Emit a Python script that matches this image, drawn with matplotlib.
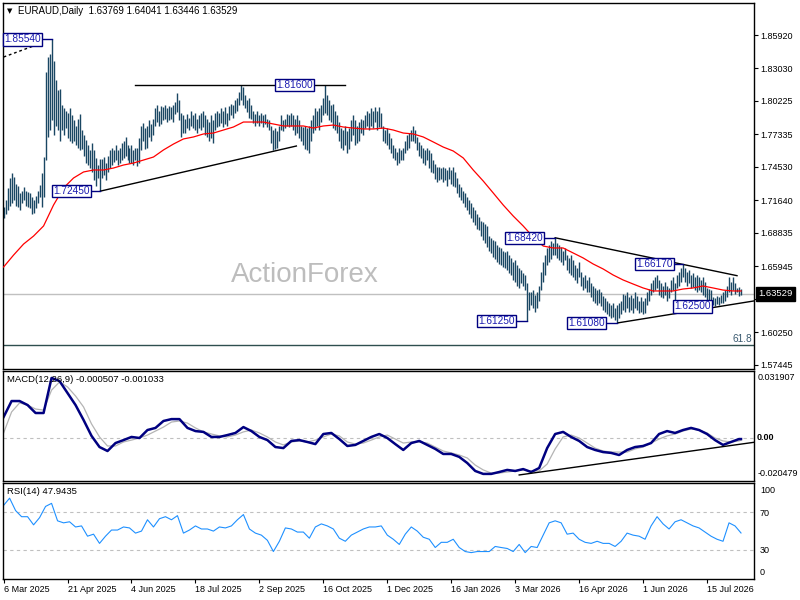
import numpy as np
import matplotlib.pyplot as plt

plt.rcParams['font.family'] = ['Liberation Sans', 'DejaVu Sans']

# EURAUD daily bars from 6 Mar 2025
highs = [
    1.711, 1.717, 1.727, 1.736, 1.740, 1.737, 1.731, 1.729, 1.723, 1.725,
    1.728, 1.725, 1.724, 1.723, 1.719, 1.717, 1.720, 1.725, 1.730, 1.740,
    1.754, 1.827, 1.840, 1.843, 1.8554, 1.837, 1.820, 1.812, 1.813, 1.799,
    1.796, 1.794, 1.792, 1.796, 1.790, 1.786, 1.781, 1.787, 1.791, 1.777,
    1.773, 1.769, 1.764, 1.760, 1.766, 1.760, 1.753, 1.747, 1.752, 1.752,
    1.754, 1.749, 1.755, 1.760, 1.762, 1.760, 1.764, 1.760, 1.762, 1.766,
    1.768, 1.771, 1.764, 1.762, 1.764, 1.760, 1.762, 1.762, 1.770, 1.781,
    1.783, 1.779, 1.781, 1.786, 1.782, 1.787, 1.796, 1.799, 1.794, 1.798,
    1.797, 1.799, 1.796, 1.798, 1.797, 1.799, 1.801, 1.809, 1.803, 1.792,
    1.790, 1.787, 1.791, 1.788, 1.794, 1.790, 1.792, 1.787, 1.790, 1.792,
    1.794, 1.790, 1.787, 1.784, 1.790, 1.786, 1.792, 1.794, 1.792, 1.796,
    1.794, 1.797, 1.792, 1.798, 1.800, 1.799, 1.803, 1.805, 1.810, 1.816,
    1.814, 1.807, 1.803, 1.805, 1.799, 1.794, 1.791, 1.794, 1.790, 1.792,
    1.790, 1.791, 1.787, 1.786, 1.781, 1.777, 1.779, 1.776, 1.781, 1.790,
    1.786, 1.787, 1.791, 1.790, 1.792, 1.790, 1.787, 1.790, 1.786, 1.781,
    1.780, 1.781, 1.779, 1.781, 1.786, 1.790, 1.796, 1.794, 1.796, 1.799,
    1.805, 1.816, 1.807, 1.803, 1.799, 1.800, 1.794, 1.790, 1.784, 1.779,
    1.777, 1.781, 1.776, 1.779, 1.786, 1.790, 1.786, 1.781, 1.784, 1.787,
    1.786, 1.790, 1.794, 1.792, 1.796, 1.794, 1.797, 1.794, 1.797, 1.792,
    1.781, 1.777, 1.779, 1.775, 1.770, 1.764, 1.762, 1.758, 1.762, 1.760,
    1.762, 1.768, 1.773, 1.775, 1.777, 1.781, 1.777, 1.771, 1.767, 1.764,
    1.762, 1.760, 1.762, 1.760, 1.757, 1.751, 1.748, 1.745, 1.745, 1.744,
    1.745, 1.744, 1.743, 1.745, 1.743, 1.745, 1.741, 1.736, 1.731, 1.728,
    1.725, 1.723, 1.719, 1.717, 1.714, 1.711, 1.708, 1.705, 1.702, 1.699,
    1.698, 1.696, 1.694, 1.686, 1.684, 1.682, 1.681, 1.678, 1.676, 1.675,
    1.673, 1.672, 1.673, 1.669, 1.667, 1.663, 1.665, 1.661, 1.658, 1.656,
    1.654, 1.652, 1.645, 1.637, 1.637, 1.639, 1.635, 1.637, 1.643, 1.655,
    1.663, 1.669, 1.675, 1.678, 1.681, 1.680, 1.6842, 1.680, 1.678, 1.676,
    1.673, 1.675, 1.669, 1.667, 1.669, 1.665, 1.661, 1.658, 1.663, 1.655,
    1.650, 1.652, 1.648, 1.650, 1.645, 1.643, 1.641, 1.639, 1.640, 1.637,
    1.634, 1.632, 1.630, 1.628, 1.626, 1.628, 1.624, 1.626, 1.628, 1.630,
    1.636, 1.635, 1.637, 1.633, 1.635, 1.632, 1.637, 1.634, 1.630, 1.633,
    1.630, 1.632, 1.637, 1.640, 1.645, 1.648, 1.650, 1.652, 1.648, 1.645,
    1.643, 1.646, 1.643, 1.641, 1.648, 1.650, 1.645, 1.652, 1.655, 1.658,
    1.6617, 1.658, 1.655, 1.656, 1.652, 1.654, 1.650, 1.652, 1.650, 1.648,
    1.650, 1.646, 1.641, 1.640, 1.639, 1.633, 1.632, 1.634, 1.633, 1.635,
    1.637, 1.639, 1.643, 1.650, 1.646, 1.650, 1.645, 1.641, 1.642, 1.64041,
]
lows = [
    1.701, 1.705, 1.708, 1.712, 1.714, 1.717, 1.712, 1.711, 1.708, 1.714,
    1.717, 1.712, 1.711, 1.710, 1.705, 1.706, 1.710, 1.714, 1.719, 1.711,
    1.719, 1.751, 1.771, 1.777, 1.786, 1.773, 1.781, 1.777, 1.768, 1.777,
    1.773, 1.779, 1.770, 1.768, 1.766, 1.768, 1.764, 1.762, 1.760, 1.761,
    1.755, 1.749, 1.747, 1.744, 1.741, 1.734, 1.729, 1.736, 1.7245, 1.736,
    1.738, 1.734, 1.741, 1.744, 1.747, 1.750, 1.751, 1.747, 1.749, 1.751,
    1.753, 1.755, 1.751, 1.749, 1.749, 1.747, 1.751, 1.746, 1.749, 1.760,
    1.768, 1.761, 1.762, 1.771, 1.768, 1.773, 1.781, 1.784, 1.781, 1.782,
    1.786, 1.787, 1.784, 1.786, 1.787, 1.784, 1.791, 1.793, 1.786, 1.771,
    1.775, 1.775, 1.779, 1.777, 1.781, 1.779, 1.777, 1.775, 1.779, 1.777,
    1.780, 1.773, 1.771, 1.768, 1.770, 1.766, 1.777, 1.780, 1.781, 1.783,
    1.780, 1.782, 1.781, 1.786, 1.790, 1.788, 1.792, 1.794, 1.799, 1.803,
    1.799, 1.796, 1.793, 1.788, 1.787, 1.783, 1.781, 1.783, 1.781, 1.783,
    1.780, 1.782, 1.780, 1.777, 1.766, 1.760, 1.761, 1.762, 1.768, 1.777,
    1.776, 1.779, 1.781, 1.780, 1.781, 1.777, 1.773, 1.775, 1.770, 1.768,
    1.764, 1.761, 1.760, 1.757, 1.768, 1.775, 1.777, 1.781, 1.777, 1.784,
    1.790, 1.792, 1.790, 1.786, 1.784, 1.779, 1.777, 1.775, 1.768, 1.762,
    1.760, 1.764, 1.757, 1.761, 1.768, 1.773, 1.764, 1.766, 1.768, 1.775,
    1.773, 1.779, 1.781, 1.777, 1.781, 1.779, 1.784, 1.777, 1.780, 1.779,
    1.768, 1.766, 1.764, 1.761, 1.757, 1.753, 1.751, 1.747, 1.749, 1.751,
    1.751, 1.757, 1.760, 1.762, 1.768, 1.768, 1.766, 1.760, 1.755, 1.753,
    1.749, 1.747, 1.751, 1.744, 1.741, 1.740, 1.735, 1.732, 1.734, 1.735,
    1.732, 1.734, 1.729, 1.735, 1.731, 1.729, 1.728, 1.723, 1.719, 1.717,
    1.714, 1.711, 1.708, 1.705, 1.701, 1.698, 1.695, 1.692, 1.691, 1.686,
    1.682, 1.680, 1.676, 1.673, 1.671, 1.668, 1.666, 1.663, 1.662, 1.661,
    1.659, 1.658, 1.656, 1.654, 1.652, 1.648, 1.646, 1.643, 1.641, 1.645,
    1.643, 1.639, 1.6125, 1.622, 1.626, 1.624, 1.620, 1.624, 1.630, 1.639,
    1.646, 1.652, 1.661, 1.663, 1.666, 1.669, 1.669, 1.667, 1.665, 1.663,
    1.661, 1.665, 1.656, 1.654, 1.652, 1.650, 1.648, 1.645, 1.650, 1.643,
    1.639, 1.641, 1.637, 1.637, 1.633, 1.630, 1.628, 1.626, 1.628, 1.625,
    1.622, 1.620, 1.618, 1.617, 1.615, 1.616, 1.613, 1.6108, 1.615, 1.618,
    1.622, 1.620, 1.624, 1.620, 1.622, 1.619, 1.624, 1.622, 1.619, 1.620,
    1.618, 1.619, 1.626, 1.630, 1.635, 1.637, 1.639, 1.641, 1.635, 1.633,
    1.632, 1.635, 1.630, 1.632, 1.637, 1.639, 1.630, 1.641, 1.643, 1.646,
    1.650, 1.646, 1.643, 1.645, 1.641, 1.642, 1.639, 1.637, 1.639, 1.637,
    1.635, 1.633, 1.630, 1.628, 1.625, 1.626, 1.625, 1.627, 1.626, 1.628,
    1.628, 1.630, 1.633, 1.637, 1.635, 1.639, 1.636, 1.637, 1.634, 1.63446,
]

# red moving average, read every 5th bar (plus the last bar)
ma_line = [
    1.6590, 1.6693, 1.6788, 1.6857, 1.6944, 1.7125, 1.7272, 1.7358, 1.7410, 1.7427,
    1.7427, 1.7444, 1.7470, 1.7487, 1.7513, 1.7539, 1.7600, 1.7651, 1.7695, 1.7712,
    1.7738, 1.7746, 1.7772, 1.7798, 1.7841, 1.7841, 1.7841, 1.7824, 1.7807, 1.7807,
    1.7807, 1.7789, 1.7807, 1.7815, 1.7798, 1.7789, 1.7781, 1.7781, 1.7789, 1.7772,
    1.7746, 1.7738, 1.7712, 1.7669, 1.7625, 1.7591, 1.7531, 1.7427, 1.7332, 1.7229,
    1.7125, 1.7030, 1.6944, 1.6849, 1.6771, 1.6754, 1.6754, 1.6711, 1.6668, 1.6616,
    1.6573, 1.6521, 1.6478, 1.6443, 1.6409, 1.6383, 1.6383, 1.6383, 1.6400, 1.6409,
    1.6426, 1.6409, 1.6391, 1.6383, 1.6383,
]

# MACD(12,26,9) main and signal, read every 4th bar (plus the last bar)
macd_main = [
    0.0100, 0.0176, 0.0176, 0.0157, 0.0119, 0.0119, 0.0286, 0.0271, 0.0214, 0.0157,
    0.0086, 0.0010, -0.0043, -0.0062, -0.0024, -0.0010, 0.0005, 0.0000, 0.0038, 0.0048,
    0.0081, 0.0090, 0.0090, 0.0048, 0.0033, 0.0029, 0.0005, 0.0005, 0.0014, 0.0024,
    0.0052, 0.0033, 0.0005, -0.0010, -0.0043, -0.0048, -0.0014, -0.0010, -0.0019, -0.0029,
    0.0019, 0.0024, -0.0005, -0.0038, -0.0033, -0.0014, 0.0005, 0.0019, 0.0000, -0.0029,
    -0.0057, -0.0024, -0.0014, -0.0033, -0.0052, -0.0076, -0.0076, -0.0090, -0.0119, -0.0157,
    -0.0171, -0.0171, -0.0162, -0.0152, -0.0157, -0.0148, -0.0162, -0.0143, -0.0048, 0.0019,
    0.0029, 0.0005, -0.0014, -0.0043, -0.0057, -0.0067, -0.0071, -0.0081, -0.0057, -0.0043,
    -0.0038, -0.0024, 0.0019, 0.0033, 0.0024, 0.0038, 0.0048, 0.0038, 0.0019, -0.0010,
    -0.0033, -0.0019, -0.0005, -0.000507,
]
macd_signal = [
    0.0024, 0.0124, 0.0167, 0.0157, 0.0138, 0.0133, 0.0228, 0.0267, 0.0243, 0.0200,
    0.0148, 0.0067, 0.0005, -0.0038, -0.0038, -0.0019, -0.0010, 0.0000, 0.0014, 0.0033,
    0.0052, 0.0076, 0.0081, 0.0071, 0.0048, 0.0029, 0.0019, 0.0010, 0.0005, 0.0014,
    0.0029, 0.0038, 0.0024, 0.0005, -0.0019, -0.0033, -0.0019, -0.0014, -0.0019, -0.0010,
    0.0005, 0.0019, 0.0010, -0.0019, -0.0029, -0.0024, -0.0010, 0.0005, 0.0014, -0.0005,
    -0.0024, -0.0019, -0.0019, -0.0024, -0.0043, -0.0062, -0.0071, -0.0081, -0.0095, -0.0129,
    -0.0152, -0.0167, -0.0167, -0.0162, -0.0157, -0.0152, -0.0157, -0.0157, -0.0124, -0.0052,
    0.0005, 0.0014, 0.0000, -0.0024, -0.0048, -0.0062, -0.0067, -0.0067, -0.0067, -0.0052,
    -0.0043, -0.0024, -0.0005, 0.0010, 0.0019, 0.0033, 0.0043, 0.0038, 0.0024, 0.0000,
    -0.0014, -0.0019, -0.0014, -0.001033,
]

# RSI(14), read every 3rd bar (plus the last bar)
rsi_line = [
    76.7, 84.2, 71.3, 64.9, 64.9, 56.4, 63.9, 75.6, 78.8, 60.6,
    58.5, 59.6, 54.2, 55.3, 44.6, 46.7, 37.1, 44.6, 51.0, 51.0,
    54.2, 53.2, 47.8, 49.9, 61.7, 54.2, 62.8, 64.9, 61.7, 66.0,
    47.8, 51.0, 55.3, 52.1, 52.1, 49.9, 54.2, 53.2, 55.3, 61.7,
    67.1, 52.1, 47.8, 45.7, 40.3, 28.6, 39.3, 53.2, 52.1, 48.9,
    48.9, 42.5, 54.2, 57.4, 55.3, 52.1, 42.5, 39.3, 45.7, 48.9,
    52.1, 54.2, 54.2, 55.3, 45.7, 41.4, 36.0, 46.7, 54.2, 49.9,
    43.5, 41.4, 32.8, 38.2, 38.2, 41.4, 32.8, 28.6, 27.5, 28.6,
    28.6, 28.6, 33.9, 32.8, 31.8, 28.6, 36.0, 27.5, 33.9, 32.8,
    45.7, 58.5, 60.6, 58.5, 46.7, 47.8, 41.4, 38.2, 37.1, 39.3,
    37.1, 37.1, 33.9, 39.3, 47.8, 45.7, 44.6, 41.4, 55.3, 64.9,
    57.4, 52.1, 59.6, 61.7, 58.5, 55.3, 53.2, 48.9, 44.6, 41.4,
    39.3, 58.5, 55.3, 47.94,
]

date_labels = ['6 Mar 2025', '21 Apr 2025', '4 Jun 2025', '18 Jul 2025', '2 Sep 2025',
               '16 Oct 2025', '1 Dec 2025', '16 Jan 2026', '3 Mar 2026', '16 Apr 2026',
               '1 Jun 2026', '15 Jul 2026']
price_ticks = [1.85920, 1.83030, 1.80225, 1.77335, 1.74530, 1.71640,
               1.68835, 1.65945, 1.63140, 1.60250, 1.57445]
last_ohlc = [1.63769, 1.64041, 1.63446, 1.63529]
macd_range = [-0.020479, 0.031907]
fib_618 = 1.5917

# swing highs / lows that carry a price label
swing_bars = [24, 48, 119, 276, 262, 307, 340, 354]
swing_prices = [1.85540, 1.72450, 1.81600, 1.68420, 1.61250, 1.61080, 1.66170, 1.62500]

# hand drawn lines (bar index, price)
trend_lines = [
    ((66, 1.8160), (171, 1.8160)),
    ((48.5, 1.7245), (146.5, 1.7634)),
    ((276, 1.6842), (367, 1.6515)),
    ((307.5, 1.6108), (375.5, 1.6297)),
]

W, H = 800, 600
bar_col = '#1a4763'
navy = '#000080'


def fx(px):
    return px / W


def fy(py):
    return 1 - py / H


n = len(highs)
idx = np.arange(n)
ma_idx = list(range(0, n, 5)) + [n - 1]
macd_idx = list(range(0, n - 1, 4)) + [n - 1]
rsi_idx = list(range(0, n - 1, 3)) + [n - 1]

fig = plt.figure(figsize=(8, 6), dpi=100)
ax = fig.add_axes([fx(3), fy(369), 751 / W, 366 / H])
ax_m = fig.add_axes([fx(3), fy(481), 751 / W, 110 / H])
ax_r = fig.add_axes([fx(3), fy(579), 751 / W, 96 / H])

for a in (ax, ax_m, ax_r):
    a.set_xlim(-0.3, 375.5)
    for s in a.spines.values():
        s.set_color('black')
        s.set_linewidth(1)

# ---- price panel
ax.set_ylim(1.57096, 1.88682)
ax.axhline(last_ohlc[3], color='#c0c0c0', lw=1, zorder=1)
ax.axhline(fib_618, color='#2f4f4f', lw=1, zorder=1)
ax.text(374.5, fib_618 + 0.0008, '61.8', ha='right', va='bottom', fontsize=7.3, color='#3a5a70')
ax.vlines(idx, lows, highs, color=bar_col, lw=1.0, zorder=2)
ax.plot(ma_idx, ma_line, color='red', lw=0.9, zorder=3)

for (x0, y0), (x1, y1) in trend_lines:
    ax.plot([x0, x1], [y0, y1], color='black', lw=1, zorder=4)
ax.plot([0, 19], [1.8402, 1.8523], color='black', lw=1, ls=(0, (2, 2)), zorder=4)

box_centres = [9.25, 33.75, 145.5, 260.75, 246.75, 291.75, 325.75, 344.75]
linked = [True, True, False, True, True, True, True, False]
for b, p, cx, lk in zip(swing_bars, swing_prices, box_centres, linked):
    if lk:
        ax.plot([cx + 10, b], [p, p], color=navy, lw=1, zorder=5)
    ax.text(cx, p, f'{p:.5f}', ha='center', va='center', fontsize=7.3, color='#1c1cb0',
            bbox=dict(boxstyle='square,pad=0.12', fc='white', ec=navy, lw=1), zorder=6)

ax.set_xticks([])
ax.set_yticks(price_ticks)
ax.set_yticklabels([f'{t:.5f}' for t in price_ticks])
ax.tick_params(axis='y', left=False, right=True, labelleft=False, labelright=True,
               length=3, width=0.8, pad=1.5, labelsize=6.5)

fig.text(fx(7), fy(11), '▼', fontsize=5, family='DejaVu Sans', va='center')
fig.text(fx(18), fy(11), 'EURAUD,Daily  ' + ' '.join(f'{v:.5f}' for v in last_ohlc),
         fontsize=7, va='center')
fig.text(fx(305), fy(275), 'ActionForex', fontsize=20, color='#bdbdbd', ha='center', va='center')
fig.text(fx(758), fy(294), f'{last_ohlc[3]:.5f}', fontsize=6.8, color='white', va='center',
         bbox=dict(boxstyle='square,pad=0.25', fc='black', ec='black'))

# ---- MACD panel
ax_m.set_ylim(*macd_range)
ax_m.axhline(0, color='#c0c0c0', lw=0.8, ls=(0, (3, 3)))
ax_m.plot(macd_idx, macd_signal, color='#b4b4b4', lw=0.9)
ax_m.plot(macd_idx, macd_main, color=navy, lw=1.8)
ax_m.plot([258, 375.5], [-0.0176, -0.00205], color='black', lw=1)
ax_m.set_xticks([])
ax_m.set_yticks([])
fig.text(fx(7), fy(379), f'MACD(12,26,9) {macd_main[-1]:.6f} {macd_signal[-1]:.6f}',
         fontsize=6.8, va='center')
fig.text(fx(758), fy(377.5), f'{macd_range[1]:.6f}', fontsize=6.5, va='center')
fig.text(fx(757), fy(438), '0.00', fontsize=6.5, va='center', weight='bold')
fig.text(fx(758), fy(474), f'{macd_range[0]:.6f}', fontsize=6.5, va='center')

# ---- RSI panel
ax_r.set_ylim(0, 100)
for lvl in (30, 70):
    ax_r.axhline(lvl, color='#c0c0c0', lw=0.8, ls=(0, (3, 3)))
ax_r.plot(rsi_idx, rsi_line, color='#1e90ff', lw=0.8)
ax_r.set_yticks([])
fig.text(fx(7), fy(492), f'RSI(14) {rsi_line[-1] + 0.0035:.4f}', fontsize=6.8, va='center')
for lbl, py in (('100', 490.7), ('70', 513.3), ('30', 550.7), ('0', 572.3)):
    fig.text(fx(760), fy(py), lbl, fontsize=6.5, va='center')

date_idx = list(range(0, 32 * len(date_labels), 32))
ax_r.set_xticks(date_idx)
ax_r.set_xticklabels(date_labels, ha='left')
ax_r.tick_params(axis='x', length=3, width=0.8, pad=1.5, labelsize=6.5)

fig.savefig('out.png', dpi=100)
